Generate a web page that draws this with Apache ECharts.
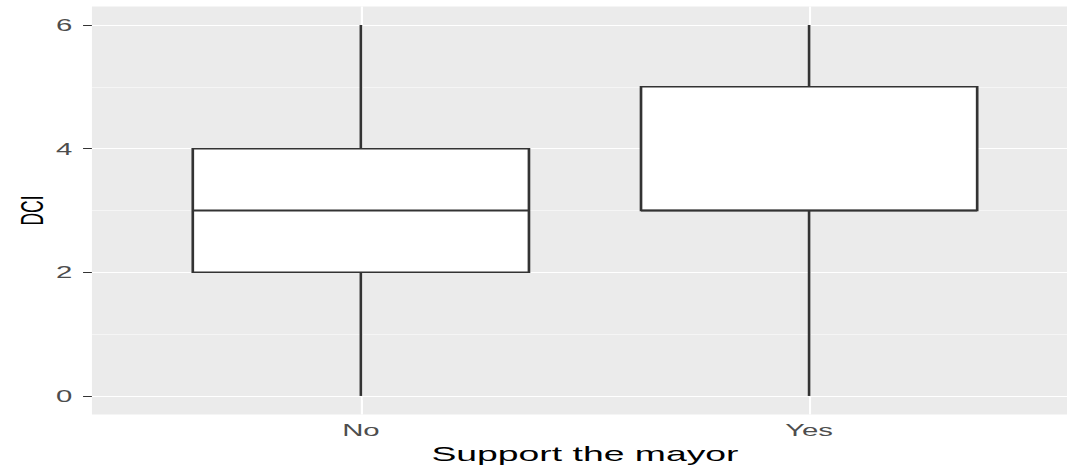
<!DOCTYPE html>
<html>
<head>
<meta charset="utf-8">
<script src="https://cdn.jsdelivr.net/npm/echarts@6/dist/echarts.min.js"></script>
<style>
  html, body { margin: 0; padding: 0; background: #ffffff; overflow: hidden; }
  #wrap { width: 1067px; height: 468px; overflow: hidden; }
  /* chart is laid out at a narrow width and stretched horizontally; the wrapper crops the right edge */
  #chart { width: 640px; height: 468px; transform: scaleX(1.77833); transform-origin: 0 0; }
</style>
</head>
<body>
<div id="wrap"><div id="chart"></div></div>
<script>
// Box summaries of DCI by group
const categories = ['No', 'Yes'];
const mins    = [0, 0];
const q1s     = [2, 3];
const medians = [3, 3];
const q3s     = [4, 5];
const maxs    = [6, 6];

// y axis breaks
const yTicks = [0, 2, 4, 6];
const yMinorBreaks = [1, 3, 5];

const FONT = '"Liberation Sans", Arial, sans-serif';

const boxData = categories.map((c, i) => [i + 1, mins[i], q1s[i], medians[i], q3s[i], maxs[i]]);

const chart = echarts.init(document.getElementById('chart'), null, { renderer: 'svg' });

chart.setOption({
  animation: false,
  grid: {
    left: 51.7, right: 33.8, top: 6.45, bottom: 53.5,
    containLabel: false,
    outerBoundsMode: 'none',
    show: true, backgroundColor: '#EBEBEB', borderWidth: 0
  },
  xAxis: {
    type: 'value',
    min: 0.4, max: 2.6,
    name: 'Support the mayor',
    nameLocation: 'middle',
    nameGap: 27,
    nameTextStyle: { color: '#000000', fontSize: 21, fontFamily: FONT },
    axisLine: { show: false },
    axisTick: { show: true, length: 4, lineStyle: { color: '#333333', width: 1 }, customValues: [1, 2] },
    axisLabel: {
      customValues: [1, 2],
      formatter: v => categories[Math.round(v) - 1] || '',
      color: '#4D4D4D', fontSize: 16.5, fontFamily: FONT, margin: 7
    },
    splitLine: { show: false }
  },
  yAxis: {
    type: 'value',
    min: -0.3, max: 6.3,
    name: 'DCI',
    nameLocation: 'middle',
    nameGap: 24.5,
    nameMoveOverlap: false,
    nameRotate: 90,
    nameTextStyle: { color: '#000000', fontSize: 17.5, fontFamily: FONT },
    axisLine: { show: false },
    axisTick: { show: true, length: 5, lineStyle: { color: '#333333', width: 1 }, customValues: yTicks },
    axisLabel: {
      customValues: yTicks,
      color: '#4D4D4D', fontSize: 16.5, fontFamily: FONT, margin: 11
    },
    splitLine: { show: false }
  },
  series: [
    {
      // panel grid lines
      type: 'line',
      data: [],
      z: 1,
      silent: true,
      markLine: {
        z: 1,
        silent: true,
        symbol: 'none',
        label: { show: false },
        emphasis: { disabled: true },
        data: [
          ...yMinorBreaks.map(v => ({ yAxis: v, lineStyle: { color: '#FFFFFF', width: 0.6, type: 'solid' } })),
          ...yTicks.map(v => ({ yAxis: v, lineStyle: { color: '#FFFFFF', width: 1.2, type: 'solid' } })),
          ...categories.map((c, i) => ({ xAxis: i + 1, lineStyle: { color: '#FFFFFF', width: 1.2, type: 'solid' } }))
        ]
      }
    },
    {
      type: 'custom',
      z: 10,
      silent: true,
      data: boxData,
      encode: { x: 0, y: [1, 2, 3, 4, 5] },
      renderItem: function (params, api) {
        const x = api.value(0);
        const half = api.size([0.75, 0])[0] / 2;
        const pMin = api.coord([x, api.value(1)]);
        const pQ1 = api.coord([x, api.value(2)]);
        const pMed = api.coord([x, api.value(3)]);
        const pQ3 = api.coord([x, api.value(4)]);
        const pMax = api.coord([x, api.value(5)]);
        const stroke = { stroke: '#333333', lineWidth: 1.5 };
        return {
          type: 'group',
          children: [
            { type: 'line', shape: { x1: pQ3[0], y1: pQ3[1], x2: pMax[0], y2: pMax[1] }, style: { ...stroke } },
            { type: 'line', shape: { x1: pQ1[0], y1: pQ1[1], x2: pMin[0], y2: pMin[1] }, style: { ...stroke } },
            {
              type: 'rect',
              shape: { x: pQ3[0] - half, y: pQ3[1], width: half * 2, height: pQ1[1] - pQ3[1] },
              style: { fill: '#FFFFFF', ...stroke }
            },
            {
              type: 'line',
              shape: { x1: pMed[0] - half, y1: pMed[1], x2: pMed[0] + half, y2: pMed[1] },
              style: { stroke: '#333333', lineWidth: 1.8 }
            }
          ]
        };
      }
    }
  ]
});
</script>
</body>
</html>
